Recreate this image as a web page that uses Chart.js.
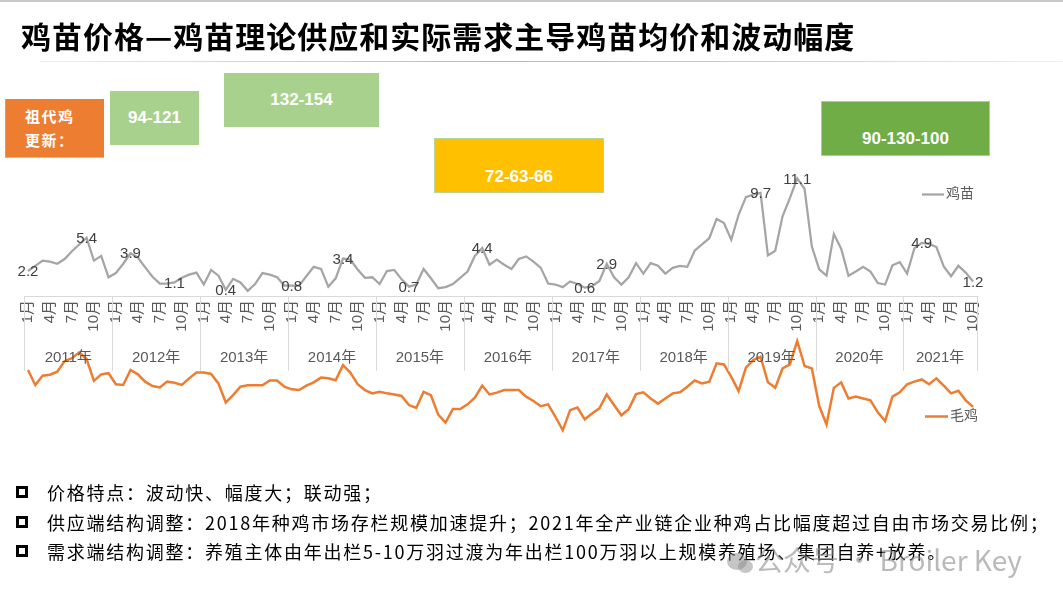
<!DOCTYPE html>
<html>
<head>
<meta charset="utf-8">
<script src="https://cdn.jsdelivr.net/npm/chart.js@4.4.1/dist/chart.umd.min.js"></script>
<style>
  html, body { margin:0; padding:0; background:#fff; }
  #page { position:relative; width:1063px; height:600px; overflow:hidden; background:#fff; }
  #chart { position:absolute; left:0; top:0; }
  .title { position:absolute; left:21px; top:15px; font-family:"Noto Sans CJK SC", sans-serif; font-weight:700; font-size:30px; line-height:40px; letter-spacing:1px; color:#000; white-space:nowrap; }
  .rule { position:absolute; left:40px; top:61px; width:1023px; height:1px; background:linear-gradient(90deg,#fbeecb 0%,#b8b8b8 45%,#c8c8c8 65%,#fbeecb 100%); }
  .topline { position:absolute; left:0; top:0; width:1063px; height:2px; background:#c8c8c8; }
  .box { position:absolute; color:#fff; font-family:"Liberation Sans", Arial, sans-serif; font-weight:700; font-size:17px; display:flex; align-items:center; justify-content:center; box-sizing:border-box; }
  .cn { font-family:"Noto Sans CJK SC", sans-serif; font-weight:700; font-size:15px; line-height:24px; letter-spacing:1.5px; justify-content:flex-start; padding-left:19px; text-align:left; }
  .bul { position:absolute; left:47px; font-family:"Noto Sans CJK SC", sans-serif; font-size:18px; letter-spacing:1.75px; color:#000; white-space:nowrap; line-height:24px; }
  .sq { position:absolute; left:16px; width:12px; height:12px; border:3px solid #000; box-sizing:border-box; }
  .wm { position:absolute; left:755px; top:539px; font-family:"Noto Sans CJK SC", "Liberation Sans", sans-serif; font-size:28px; color:rgba(140,140,140,0.6); white-space:nowrap; }
  .wmicon { position:absolute; border-radius:50%; background:rgba(140,140,140,0.5); }
</style>
</head>
<body>
<div id="page">
  <canvas id="chart" width="1063" height="600"></canvas>
  <div class="topline"></div>
  <div class="title">鸡苗价格—鸡苗理论供应和实际需求主导鸡苗均价和波动幅度</div>
  <div class="rule"></div>

  <div class="box cn" style="left:5px;top:99px;width:99px;height:59px;background:#ed7d31;border-left:1.5px solid #8fc46a;border-bottom:1.5px solid #a9d18e;">祖代鸡<br>更新：</div>
  <div class="box" style="left:110px;top:91px;width:89px;height:54px;background:#a9d18e;">94-121</div>
  <div class="box" style="left:224px;top:73px;width:155px;height:54px;background:#a9d18e;">132-154</div>
  <div class="box" style="left:434px;top:138px;width:170px;height:55px;background:#ffc000;border:1px solid #b5d59b;padding-top:22px;">72-63-66</div>
  <div class="box" style="left:821px;top:101px;width:169px;height:55px;background:#70ad47;border:1px solid #a9d18e;padding-top:20px;">90-130-100</div>

  <div class="sq" style="top:486px;"></div>
  <div class="bul" style="top:480px;">价格特点：波动快、幅度大；联动强；</div>
  <div class="sq" style="top:516px;"></div>
  <div class="bul" style="top:510px;">供应端结构调整：2018年种鸡市场存栏规模加速提升；2021年全产业链企业种鸡占比幅度超过自由市场交易比例；</div>
  <div class="sq" style="top:545px;"></div>
  <div class="bul" style="top:539px;">需求端结构调整：养殖主体由年出栏5-10万羽过渡为年出栏100万羽以上规模养殖场、集团自养+放养。</div>
  <div class="wmicon" style="left:727px;top:553px;width:20px;height:17px;"></div>
  <div class="wmicon" style="left:738px;top:560px;width:15px;height:13px;"></div>
  <div class="wm">公众号 · Broiler Key</div>
</div>

<script>
// ---------------- DATA ----------------
const years = ['2011年','2012年','2013年','2014年','2015年','2016年','2017年','2018年','2019年','2020年','2021年'];
const monthNames = ['1月','2月','3月','4月','5月','6月','7月','8月','9月','10月','11月','12月'];
const shownMonths = ['1月','4月','7月','10月'];

// 鸡苗 (chick price), monthly, 2011-01 .. 2021-10
const chick2011 = [2.2, 2.7, 3.2, 3.1, 2.9, 3.35, 4.1, 4.75, 5.4, 3.2, 3.65, 1.6];
const chick2012 = [2.0, 2.9, 3.9, 3.5, 2.55, 1.65, 1.0, 1.0, 1.1, 1.55, 1.85, 2.05];
const chick2013 = [0.9, 2.3, 1.75, 0.4, 1.45, 1.1, 0.3, 0.95, 2.0, 1.85, 1.6, 0.8];
const chick2014 = [0.8, 0.8, 1.7, 2.6, 2.4, 0.7, 1.5, 3.4, 3.3, 2.35, 1.55, 1.6];
const chick2015 = [0.95, 2.2, 2.3, 1.4, 0.7, 0.9, 2.4, 1.5, 0.55, 0.65, 0.95, 1.55];
const chick2016 = [2.15, 3.65, 4.4, 2.8, 3.3, 2.8, 2.4, 3.35, 3.6, 3.1, 2.5, 1.0];
const chick2017 = [0.9, 0.65, 1.2, 0.95, 0.6, 0.75, 1.25, 2.9, 1.6, 0.9, 1.6, 2.95];
const chick2018 = [1.95, 2.95, 2.7, 1.95, 2.5, 2.7, 2.6, 4.15, 4.75, 5.35, 7.2, 6.8];
const chick2019 = [5.2, 7.6, 9.3, 9.55, 9.7, 3.7, 4.15, 7.45, 9.2, 11.1, 10.1, 4.55];
const chick2020 = [2.35, 1.75, 5.75, 4.35, 1.75, 2.15, 2.6, 2.15, 1.05, 0.9, 2.75, 3.05];
const chick2021 = [1.95, 4.4, 4.9, 4.8, 4.5, 2.65, 1.7, 2.7, 2.05, 1.2];

// 毛鸡 (broiler price), monthly, 2011-01 .. 2021-10
const broiler2011 = [4.51, 4.10, 4.35, 4.38, 4.46, 4.75, 4.83, 4.99, 4.81, 4.21, 4.39, 4.42];
const broiler2012 = [4.12, 4.10, 4.51, 4.39, 4.19, 4.07, 4.03, 4.19, 4.16, 4.10, 4.28, 4.44];
const broiler2013 = [4.44, 4.40, 4.14, 3.62, 3.82, 4.05, 4.09, 4.09, 4.09, 4.22, 4.22, 4.05];
const broiler2014 = [3.98, 3.96, 4.08, 4.17, 4.30, 4.28, 4.23, 4.64, 4.44, 4.12, 3.96, 3.87];
const broiler2015 = [3.91, 3.87, 3.84, 3.80, 3.55, 3.47, 3.91, 3.82, 3.29, 3.07, 3.44, 3.44];
const broiler2016 = [3.57, 3.75, 4.08, 3.84, 3.89, 3.96, 3.96, 3.96, 3.78, 3.66, 3.52, 3.57];
const broiler2017 = [3.23, 2.86, 3.41, 3.48, 3.16, 3.32, 3.46, 3.84, 3.55, 3.27, 3.44, 3.85];
const broiler2018 = [3.90, 3.73, 3.59, 3.73, 3.87, 3.90, 4.05, 4.22, 4.14, 4.19, 4.69, 4.66];
const broiler2019 = [4.32, 3.93, 4.57, 4.78, 4.87, 4.17, 4.02, 4.55, 4.66, 5.30, 4.62, 4.55];
const broiler2020 = [3.53, 3.02, 4.02, 4.17, 3.73, 3.78, 3.73, 3.68, 3.35, 3.11, 3.78, 3.90];
const broiler2021 = [4.12, 4.19, 4.25, 4.12, 4.28, 4.08, 3.87, 3.94, 3.68, 3.50];

// indices of labelled 鸡苗 points
const labelledPoints = [0, 8, 14, 20, 27, 36, 43, 52, 62, 76, 79, 100, 105, 122, 129];

// ---------------- BUILD ----------------
const chickPrice = [].concat(chick2011, chick2012, chick2013, chick2014, chick2015, chick2016,
  chick2017, chick2018, chick2019, chick2020, chick2021);
const broilerPrice = [].concat(broiler2011, broiler2012, broiler2013, broiler2014, broiler2015, broiler2016,
  broiler2017, broiler2018, broiler2019, broiler2020, broiler2021);
const categories = chickPrice.map((_, i) => years[Math.floor(i / 12)] + monthNames[i % 12]);
const monthsInYear = years.map((_, k) => Math.min(12, chickPrice.length - 12 * k));

const FONT = '"Liberation Sans", "Noto Sans CJK SC", sans-serif';

const decor = {
  id: 'decor',
  afterDatasetsDraw(chart) {
    const ctx = chart.ctx, xs = chart.scales.x, area = chart.chartArea;
    const step = xs.getPixelForValue(1) - xs.getPixelForValue(0);
    ctx.save();
    // year separators + year labels
    ctx.strokeStyle = '#d9d9d9';
    ctx.lineWidth = 1;
    ctx.fillStyle = '#595959';
    ctx.font = '15px ' + FONT;
    ctx.textAlign = 'center';
    ctx.textBaseline = 'middle';
    let start = 0;
    years.forEach((yr, k) => {
      const n = monthsInYear[k];
      const left = xs.getPixelForValue(start) - step / 2;
      const right = xs.getPixelForValue(start + n - 1) + step / 2;
      const lx = Math.round(left) + 0.5;
      ctx.beginPath(); ctx.moveTo(lx, area.bottom); ctx.lineTo(lx, area.bottom + 75); ctx.stroke();
      if (k === years.length - 1) {
        const rx = Math.round(right) + 0.5;
        ctx.beginPath(); ctx.moveTo(rx, area.bottom); ctx.lineTo(rx, area.bottom + 75); ctx.stroke();
      }
      ctx.fillText(yr, (left + right) / 2, area.bottom + 62);
      start += n;
    });
    // data labels for 鸡苗
    const meta = chart.getDatasetMeta(0);
    ctx.fillStyle = '#404040';
    ctx.font = '15px ' + FONT;
    labelledPoints.forEach(i => {
      const p = meta.data[i];
      ctx.fillText(chickPrice[i].toFixed(1), p.x, p.y + 1);
    });
    // legends
    ctx.lineWidth = 2.25;
    ctx.strokeStyle = '#a5a5a5';
    ctx.beginPath(); ctx.moveTo(922, 194.5); ctx.lineTo(944, 194.5); ctx.stroke();
    ctx.strokeStyle = '#ed7d31';
    ctx.lineWidth = 2.5;
    ctx.beginPath(); ctx.moveTo(925, 416.5); ctx.lineTo(948, 416.5); ctx.stroke();
    ctx.fillStyle = '#595959';
    ctx.font = '14px ' + FONT;
    ctx.textAlign = 'left';
    ctx.fillText(chart.data.datasets[0].label, 946, 194);
    ctx.fillText(chart.data.datasets[1].label, 950, 416);
    ctx.restore();
  }
};

new Chart(document.getElementById('chart'), {
  type: 'line',
  data: {
    labels: categories,
    datasets: [
      { label: '鸡苗', data: chickPrice, yAxisID: 'y', borderColor: '#a5a5a5', borderWidth: 2.25,
        pointRadius: 0, tension: 0, fill: false },
      { label: '毛鸡', data: broilerPrice, yAxisID: 'y2', borderColor: '#ed7d31', borderWidth: 2.5,
        pointRadius: 0, tension: 0, fill: false, clip: false }
    ]
  },
  options: {
    responsive: false,
    animation: false,
    events: [],
    layout: { padding: { left: 24.3, right: 86.3, top: 169, bottom: 224 } },
    plugins: { legend: { display: false }, tooltip: { enabled: false }, title: { display: false } },
    scales: {
      x: {
        type: 'category',
        offset: true,
        grid: { display: false, drawTicks: false },
        border: { display: true, color: '#d9d9d9', width: 1 },
        afterFit: (s) => { s.height = 80; },
        ticks: {
          autoSkip: false, minRotation: 90, maxRotation: 90, padding: 4,
          color: '#595959', font: { size: 15, family: FONT },
          callback: function (v, i) {
            const m = monthNames[i % 12];
            return shownMonths.includes(m) ? m : '';
          }
        }
      },
      y: { display: false, min: -0.2, max: 12 },
      y2: { display: false, min: 6.53, max: 10.0 }
    }
  },
  plugins: [decor]
});
</script>
</body>
</html>
